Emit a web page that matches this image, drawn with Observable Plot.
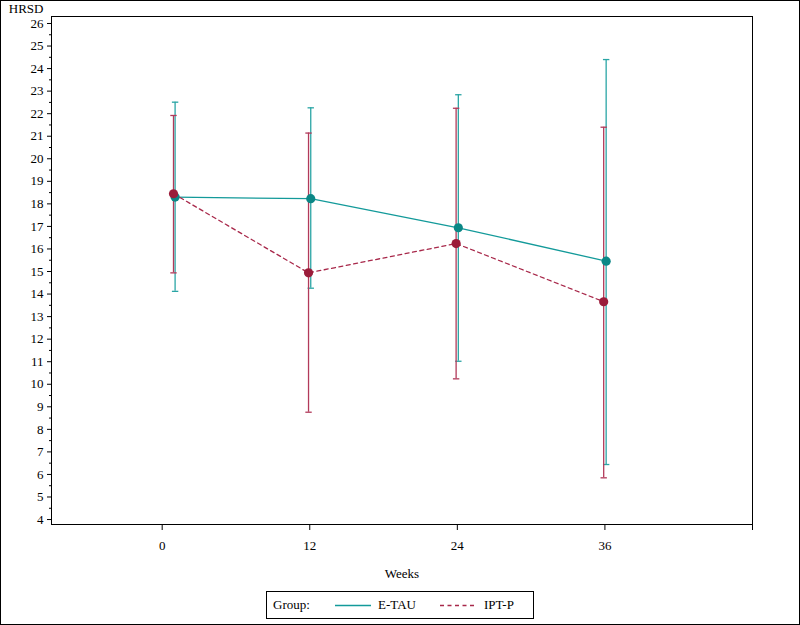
<!DOCTYPE html>
<html><head><meta charset="utf-8">
<script src="https://cdn.jsdelivr.net/npm/d3@7"></script>
<script src="https://cdn.jsdelivr.net/npm/@observablehq/plot@0.6"></script>
<style>
body{margin:0;background:#fff;}
#wrap{position:relative;width:800px;height:625px;overflow:hidden;font-family:"Liberation Serif","Times New Roman","DejaVu Serif",serif;font-size:13px;color:#000;background:#fff;}
#border{position:absolute;left:0;top:0;width:800px;height:625px;border:1px solid #000;box-sizing:border-box;pointer-events:none;}
#chart{position:absolute;left:0;top:0;}
#legend{position:absolute;left:266px;top:591px;width:268px;height:28px;border:1px solid #000;box-sizing:border-box;background:#fff;}
.li{position:absolute;top:0;height:26px;line-height:26px;white-space:nowrap;}
.ls{position:absolute;top:12px;}
</style></head>
<body><div id="wrap"><div id="chart"></div><div id="legend"></div><div id="border"></div></div>
<script>
// ---- data ----
const groups = ["E-TAU", "IPT-P"];
const weeksETAU = [1.05, 12.08, 24.08, 36.1];
const weeksIPTP = [0.92, 11.9, 23.9, 35.9];
const meanETAU = [18.3, 18.23, 16.94, 15.46];
const upperETAU = [22.51, 22.26, 22.84, 24.4];
const lowerETAU = [14.12, 14.26, 11.02, 6.44];
const meanIPTP = [18.45, 14.94, 16.24, 13.66];
const upperIPTP = [21.92, 21.14, 22.24, 21.4];
const lowerIPTP = [14.94, 8.76, 10.24, 5.85];
const xTicks = [0, 12, 24, 36, 48];
const xTickLabels = ["0", "12", "24", "36", ""];
const yTicks = [4,5,6,7,8,9,10,11,12,13,14,15,16,17,18,19,20,21,22,23,24,25,26];
const yMinorTicks = yTicks.slice(0, -1).map(v => v + 0.5);
const yLabel = "HRSD";
const xLabel = "Weeks";
const legendTitle = "Group:";

// ---- styles ----
const lineColor = {"E-TAU": "#139a9a", "IPT-P": "#a8284a"};
const barColor = {"E-TAU": "#2aa5a5", "IPT-P": "#b23a5a"};
const dotColor = {"E-TAU": "#0b8786", "IPT-P": "#9b1c3a"};
const dash = {"E-TAU": null, "IPT-P": "4,3.5"};
const fontFamily = '"Liberation Serif","Times New Roman","DejaVu Serif",serif';

const series = {
  "E-TAU": {week: weeksETAU, mean: meanETAU, hi: upperETAU, lo: lowerETAU},
  "IPT-P": {week: weeksIPTP, mean: meanIPTP, hi: upperIPTP, lo: lowerIPTP}
};
const rowsFor = g => series[g].week.map((w, i) => ({group: g, week: w, mean: series[g].mean[i], hi: series[g].hi[i], lo: series[g].lo[i]}));

const capSymbol = {
  draw(ctx, size) {
    const r = Math.sqrt(size / Math.PI);
    ctx.moveTo(-r, 0); ctx.lineTo(r, 0);
  }
};

const marks = [
  Plot.frame({stroke: "black"}),
  Plot.axisY({ticks: yTicks, tickSize: 4, tickPadding: 4, label: null}),
  Plot.axisY({ticks: yMinorTicks, tickSize: 2, tickFormat: () => "", label: null}),
  Plot.axisX({ticks: xTicks, tickSize: 6, tickPadding: 10, tickFormat: d => xTickLabels[xTicks.indexOf(d)], label: null}),
  Plot.text([yLabel], {text: d => d, frameAnchor: "top-left", dx: -8, dy: -8, textAnchor: "end", lineAnchor: "middle"}),
  Plot.text([xLabel], {text: d => d, frameAnchor: "bottom", dy: 49, lineAnchor: "middle"})
];
for (const g of groups) {
  const rows = rowsFor(g);
  marks.push(
    Plot.ruleX(rows, {x: "week", y1: "lo", y2: "hi", stroke: barColor[g], strokeWidth: 1.3}),
    Plot.dot(rows, {x: "week", y: "hi", symbol: capSymbol, r: 3.2, stroke: barColor[g], fill: "none", strokeWidth: 1.3}),
    Plot.dot(rows, {x: "week", y: "lo", symbol: capSymbol, r: 3.2, stroke: barColor[g], fill: "none", strokeWidth: 1.3})
  );
}
for (const g of groups) {
  const rows = rowsFor(g);
  marks.push(
    Plot.line(rows, {x: "week", y: "mean", stroke: lineColor[g], strokeWidth: 1.3, strokeDasharray: dash[g]}),
    Plot.dot(rows, {x: "week", y: "mean", r: 4.6, fill: dotColor[g], stroke: "none"})
  );
}

const chart = Plot.plot({
  width: 800,
  height: 585,
  marginLeft: 51,
  marginRight: 48,
  marginTop: 16,
  marginBottom: 61,
  style: {fontFamily, fontSize: "13px", background: "#fff", color: "#000"},
  x: {domain: [-9, 48]},
  y: {domain: [3.78, 26.31]},
  marks
});
document.getElementById("chart").appendChild(chart);

// ---- legend (HTML, below plot area) ----
const legend = document.getElementById("legend");
const addText = (txt, left) => {
  const s = document.createElement("span");
  s.className = "li"; s.style.left = left + "px"; s.textContent = txt;
  legend.appendChild(s);
};
const addSwatch = (g, left) => {
  const ns = "http://www.w3.org/2000/svg";
  const svg = document.createElementNS(ns, "svg");
  svg.setAttribute("width", 36); svg.setAttribute("height", 3);
  svg.setAttribute("class", "ls");
  svg.style.left = left + "px";
  const l = document.createElementNS(ns, "line");
  l.setAttribute("x1", 0); l.setAttribute("x2", 36);
  l.setAttribute("y1", 1.5); l.setAttribute("y2", 1.5);
  l.setAttribute("stroke", lineColor[g]); l.setAttribute("stroke-width", 1.3);
  if (dash[g]) l.setAttribute("stroke-dasharray", dash[g]);
  svg.appendChild(l);
  legend.appendChild(svg);
};
addText(legendTitle, 6);
addSwatch(groups[0], 68);
addText(groups[0], 111);
addSwatch(groups[1], 173);
addText(groups[1], 217);
</script>
</body></html>
